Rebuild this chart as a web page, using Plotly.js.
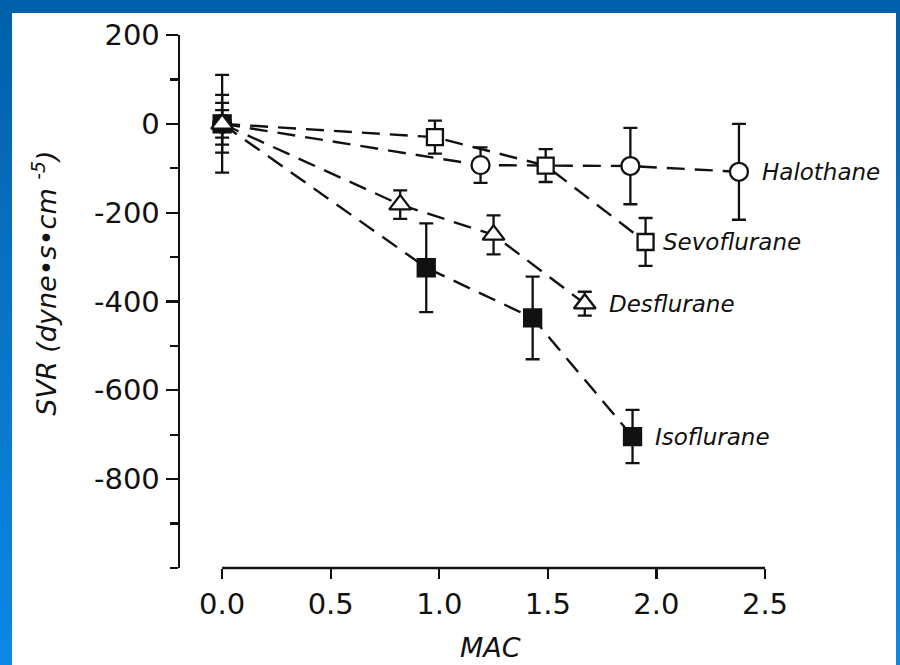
<!DOCTYPE html>
<html>
<head>
<meta charset="utf-8">
<script src="https://cdn.plot.ly/plotly-3.0.1.min.js"></script>
<style>
  html, body { margin: 0; padding: 0; }
  body {
    width: 900px; height: 665px; overflow: hidden; position: relative;
    background: linear-gradient(180deg, #0060aa 0%, #0a72c4 45%, #0c88e4 100%);
  }
  #panel {
    position: absolute; left: 12px; top: 13px; width: 884px; height: 652px;
    background: #ffffff;
  }
  #chart { position: absolute; left: 0; top: 0; width: 900px; height: 665px; }
</style>
</head>
<body>
<div id="panel"></div>
<div id="chart"></div>
<script>
// ---- data ----
const drugNames = ["Halothane", "Sevoflurane", "Desflurane", "Isoflurane"];

const halothaneMAC = [0, 1.19, 1.88, 2.38];
const halothaneSVR = [0, -93, -95, -108];
const halothaneErr = [65, 40, 86, 108];

const sevofluraneMAC = [0, 0.98, 1.49, 1.95];
const sevofluraneSVR = [0, -30, -94, -266];
const sevofluraneErr = [47, 37, 37, 54];

const desfluraneMAC = [0, 0.82, 1.25, 1.67];
const desfluraneSVR = [0, -182, -250, -405];
const desfluraneErr = [31, 32, 44, 27];

const isofluraneMAC = [0, 0.94, 1.43, 1.89];
const isofluraneSVR = [0, -324, -437, -704];
const isofluraneErr = [110, 100, 93, 60];

const xTickVals = [0, 0.5, 1, 1.5, 2, 2.5];
const xTickText = ["0.0", "0.5", "1.0", "1.5", "2.0", "2.5"];
const yTickVals = [200, 0, -200, -400, -600, -800];
const yTickText = ["200", "0", "-200", "-400", "-600", "-800"];

const xTitle = "MAC";
const yTitle = "SVR (dyne•s•cm <sup>-5</sup>)";

// ---- styling ----
const ink = "#111111";
const dashPattern = "18px,10px";

function series(name, xs, ys, errs, symbol, fill, size) {
  return {
    type: "scatter",
    mode: "lines+markers",
    name: name,
    x: xs, y: ys,
    cliponaxis: false,
    line: { color: ink, width: 2.4, dash: dashPattern },
    marker: { symbol: symbol, size: size, color: fill, line: { color: ink, width: 2.3 } },
    error_y: { type: "data", array: errs, visible: true, color: ink, thickness: 2.3, width: 7 }
  };
}

const traces = [
  series(drugNames[0], halothaneMAC, halothaneSVR, halothaneErr, "circle", "#ffffff", 18),
  series(drugNames[1], sevofluraneMAC, sevofluraneSVR, sevofluraneErr, "square", "#ffffff", 16),
  series(drugNames[3], isofluraneMAC, isofluraneSVR, isofluraneErr, "square", ink, 17),
  series(drugNames[2], desfluraneMAC, desfluraneSVR, desfluraneErr, "triangle-up", "#ffffff", 19)
];

const labelSets = [
  [drugNames[0], halothaneMAC, halothaneSVR, 21],
  [drugNames[1], sevofluraneMAC, sevofluraneSVR, 15],
  [drugNames[2], desfluraneMAC, desfluraneSVR, 22],
  [drugNames[3], isofluraneMAC, isofluraneSVR, 20]
];
const annotations = labelSets.map(([name, xs, ys, shift]) => ({
  x: xs[xs.length - 1], y: ys[ys.length - 1], xref: "x", yref: "y",
  text: name, showarrow: false, xanchor: "left", yanchor: "middle", xshift: shift,
  font: { family: "DejaVu Sans", size: 23, color: ink, style: "italic" }
}));
annotations.push({
  xref: "paper", yref: "paper", x: -0.231, y: 0.535, textangle: -90,
  xanchor: "center", yanchor: "middle", showarrow: false, text: yTitle,
  font: { family: "DejaVu Sans", size: 27, color: ink, style: "italic" }
});
annotations.push({
  xref: "paper", yref: "paper", x: 0.53, y: -0.149,
  xanchor: "center", yanchor: "middle", showarrow: false, text: xTitle,
  font: { family: "DejaVu Sans", size: 27, color: ink, style: "italic" }
});

const layout = {
  width: 900, height: 665,
  margin: { l: 180, r: 135, t: 35, b: 97 },
  paper_bgcolor: "rgba(0,0,0,0)",
  plot_bgcolor: "rgba(0,0,0,0)",
  showlegend: false,
  font: { family: "DejaVu Sans", color: ink },
  xaxis: {
    range: [-0.194, 2.5],
    showgrid: false, zeroline: false, showline: false,
    tickmode: "array", tickvals: xTickVals, ticktext: xTickText,
    ticks: "outside", ticklen: 10, tickwidth: 2.3, tickcolor: ink,
    tickfont: { family: "DejaVu Sans", size: 29, color: ink }
  },
  yaxis: {
    range: [-1000, 200],
    showgrid: false, zeroline: false,
    showline: true, linecolor: ink, linewidth: 2.4,
    tickmode: "array", tickvals: yTickVals, ticktext: yTickText,
    ticks: "outside", ticklen: 12, tickwidth: 2.3, tickcolor: ink,
    tickfont: { family: "DejaVu Sans", size: 29, color: ink },
    minor: { ticks: "outside", dtick: 100, tick0: 0, ticklen: 8, tickwidth: 2.3, tickcolor: ink, showgrid: false }
  },
  shapes: [
    { type: "line", xref: "x", yref: "paper", x0: xTickVals[0], x1: xTickVals[xTickVals.length - 1], y0: 0, y1: 0,
      line: { color: ink, width: 2.4 } }
  ],
  annotations: annotations
};

Plotly.newPlot("chart", traces, layout, { displayModeBar: false, staticPlot: true });
</script>
</body>
</html>
